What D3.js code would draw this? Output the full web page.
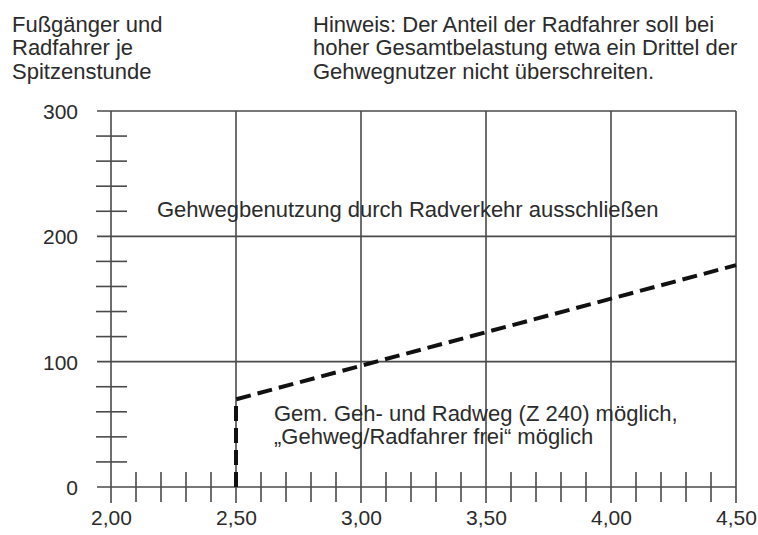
<!DOCTYPE html>
<html>
<head>
<meta charset="utf-8">
<script src="https://cdn.jsdelivr.net/npm/d3@7"></script>
<style>
  html, body { margin: 0; padding: 0; background: #fff; }
  svg { display: block; font-family: "Liberation Sans", Arial, sans-serif; }
</style>
</head>
<body>
<svg id="chart" width="758" height="535"></svg>
<script>
// ---- data ----
const xMajorTicks = [2.0, 2.5, 3.0, 3.5, 4.0, 4.5];
const yMajorTicks = [0, 100, 200, 300];
const xMinorStep = 0.1;
const yMinorStep = 20;
const boundaryX = [2.5, 2.5, 4.5];
const boundaryY = [0, 70, 177];
const yTitleLines = ["Fußgänger und", "Radfahrer je", "Spitzenstunde"];
const noteLines = ["Hinweis: Der Anteil der Radfahrer soll bei",
                   "hoher Gesamtbelastung etwa ein Drittel der",
                   "Gehwegnutzer nicht überschreiten."];
const upperRegionLabel = ["Gehwegbenutzung durch Radverkehr ausschließen"];
const lowerRegionLabel = ["Gem. Geh- und Radweg (Z 240) möglich,",
                          "„Gehweg/Radfahrer frei“ möglich"];

// ---- drawing ----
const svg = d3.select("#chart");
const ink = "#2b2b2b";
const gridColor = "#4a4a4a";

const x = d3.scaleLinear().domain([2.0, 4.5]).range([111, 736]);
const y = d3.scaleLinear().domain([0, 300]).range([487, 111]);

const deLocale = d3.formatLocale({decimal: ",", thousands: ".", grouping: [3], currency: ["", " €"]});
const fmtX = deLocale.format(".2f");

// minor ticks
const xMinor = d3.range(2.0, 4.5 + 1e-9, xMinorStep)
  .filter(v => Math.abs(v * 2 - Math.round(v * 2)) > 1e-6);
const yMinor = d3.range(0, 300 + 1e-9, yMinorStep)
  .filter(v => v % 100 !== 0);

const g = svg.append("g");

// horizontal gridlines (extend slightly left of axis)
g.selectAll("line.hgrid").data(yMajorTicks).join("line")
  .attr("class", "hgrid")
  .attr("x1", x(2.0) - 14).attr("x2", x(4.5))
  .attr("y1", d => y(d)).attr("y2", d => y(d))
  .attr("stroke", gridColor).attr("stroke-width", 1.6);

// vertical gridlines (extend slightly below axis)
g.selectAll("line.vgrid").data(xMajorTicks).join("line")
  .attr("class", "vgrid")
  .attr("x1", d => x(d)).attr("x2", d => x(d))
  .attr("y1", y(300)).attr("y2", y(0) + 16)
  .attr("stroke", gridColor).attr("stroke-width", 1.6);

// minor ticks x
g.selectAll("line.xminor").data(xMinor).join("line")
  .attr("class", "xminor")
  .attr("x1", d => x(d)).attr("x2", d => x(d))
  .attr("y1", y(0) - 15).attr("y2", y(0) + 15)
  .attr("stroke", gridColor).attr("stroke-width", 1.6);

// minor ticks y
g.selectAll("line.yminor").data(yMinor).join("line")
  .attr("class", "yminor")
  .attr("x1", x(2.0) - 15).attr("x2", x(2.0) + 16)
  .attr("y1", d => y(d)).attr("y2", d => y(d))
  .attr("stroke", gridColor).attr("stroke-width", 1.6);

// axes for labels
const xAxis = svg.append("g")
  .attr("transform", `translate(0,${y(0) + 22})`)
  .call(d3.axisBottom(x).tickValues(xMajorTicks).tickFormat(fmtX).tickSize(0).tickPadding(0));
xAxis.select(".domain").remove();
xAxis.selectAll("text")
  .attr("font-family", "Liberation Sans, Arial, sans-serif")
  .attr("font-size", 21).attr("fill", ink).attr("dy", "0.75em");

const yAxis = svg.append("g")
  .attr("transform", `translate(${x(2.0) - 33},0)`)
  .call(d3.axisLeft(y).tickValues(yMajorTicks).tickFormat(d3.format("d")).tickSize(0).tickPadding(0));
yAxis.select(".domain").remove();
yAxis.selectAll("text")
  .attr("font-family", "Liberation Sans, Arial, sans-serif")
  .attr("font-size", 21).attr("fill", ink).attr("dy", "0.36em");

// boundary dashed line
const line = d3.line().x(d => x(d[0])).y(d => y(d[1]));
svg.append("path")
  .datum(d3.zip(boundaryX, boundaryY))
  .attr("d", line)
  .attr("fill", "none")
  .attr("stroke", "#111")
  .attr("stroke-width", 4)
  .attr("stroke-dasharray", "15,7")
  .attr("stroke-linejoin", "miter");

// texts
function textBlock(lines, x0, y0, lh) {
  svg.append("g").selectAll("text").data(lines).join("text")
    .attr("x", x0).attr("y", (d, i) => y0 + i * lh)
    .attr("font-size", 22).attr("fill", ink)
    .text(d => d);
}
textBlock(yTitleLines, 12, 32, 23.3);
textBlock(noteLines, 313, 32, 23.3);
textBlock(upperRegionLabel, 157, 217, 23);
textBlock(lowerRegionLabel, 274, 421, 22.5);
</script>
</body>
</html>
